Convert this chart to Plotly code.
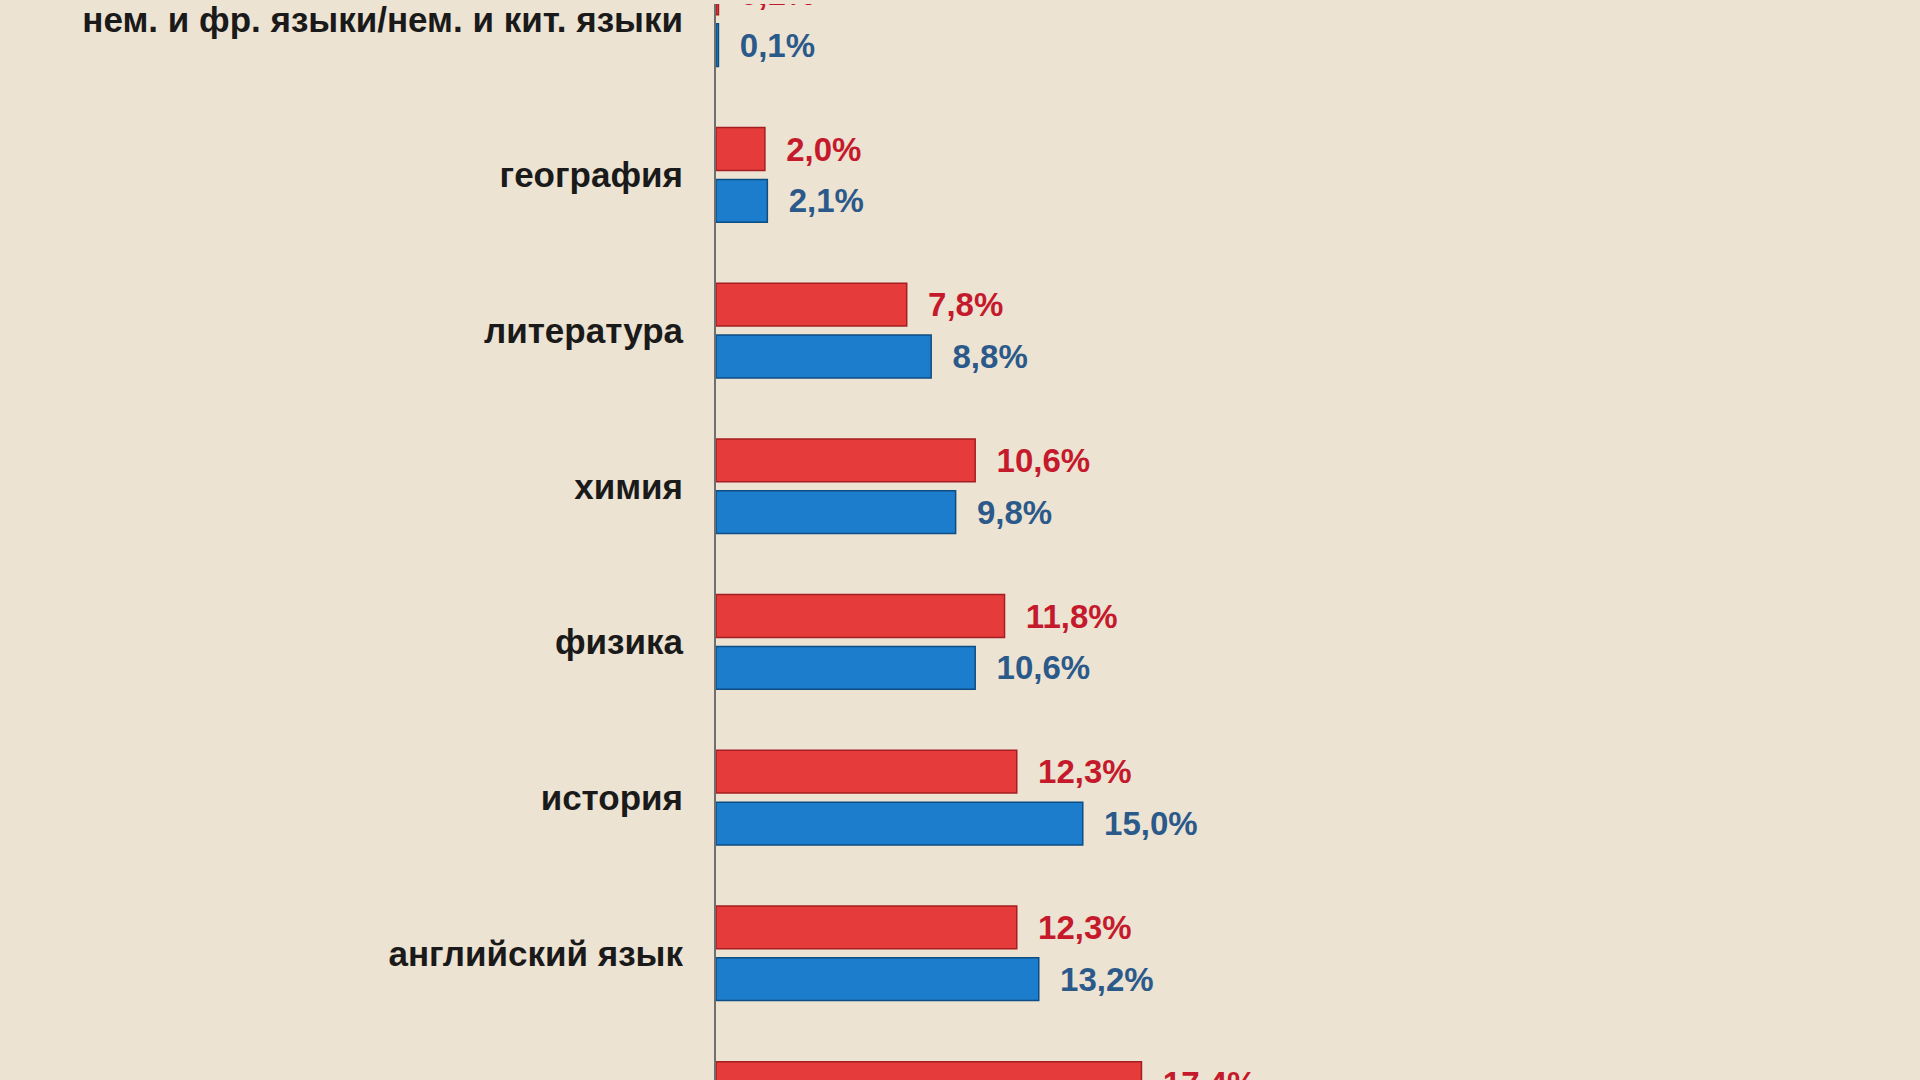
import plotly.graph_objects as go

# ---- data ----
categories = [
    "нем. и фр. языки/нем. и кит. языки",
    "география",
    "литература",
    "химия",
    "физика",
    "история",
    "английский язык",
    "обществознание",
]
red_values = [0.1, 2.0, 7.8, 10.6, 11.8, 12.3, 12.3, 17.4]
blue_values = [0.1, 2.1, 8.8, 9.8, 10.6, 15.0, 13.2, None]
red_name = "2013"
blue_name = "2014"


def fmt(v):
    if v is None:
        return ""
    return "\u00a0\u00a0" + f"{v:.1f}".replace(".", ",") + "%"


BG = "#ede3d3"
FONT = "Liberation Sans, Arial, sans-serif"

fig = go.Figure()
fig.add_trace(go.Bar(
    name=red_name, y=categories, x=red_values, orientation="h",
    width=0.275, offset=-0.304,
    marker=dict(color="#e53b3b", line=dict(color="#a51f22", width=1.5)),
    text=[fmt(v) for v in red_values], textposition="outside",
    constraintext="none",
    textfont=dict(family=FONT, size=33, color="#c41a2c", weight="bold"),
    hoverinfo="skip",
))
fig.add_trace(go.Bar(
    name=blue_name, y=categories, x=blue_values, orientation="h",
    width=0.275, offset=0.029,
    marker=dict(color="#1b7dcc", line=dict(color="#0e4d82", width=1.5)),
    text=[fmt(v) for v in blue_values], textposition="outside",
    constraintext="none",
    textfont=dict(family=FONT, size=33, color="#2b5a8a", weight="bold"),
    hoverinfo="skip",
))

fig.update_layout(
    width=1920, height=1080,
    margin=dict(l=716, r=0, t=0, b=0),
    paper_bgcolor=BG, plot_bgcolor=BG,
    barmode="overlay",
    showlegend=False,
    xaxis=dict(range=[0, 49.24], showgrid=False, zeroline=False,
               showticklabels=False, ticks="", showline=False, fixedrange=True),
    yaxis=dict(type="category", categoryorder="array", categoryarray=categories,
               range=[6.814, -0.098], showgrid=False, zeroline=False,
               showline=True, linecolor="#6f6f6f", linewidth=2,
               ticks="", ticklabelstandoff=24,
               tickfont=dict(family=FONT, size=35, color="#1a1a1a", weight="bold"),
               fixedrange=True),
)

fig.write_html("out.html")
